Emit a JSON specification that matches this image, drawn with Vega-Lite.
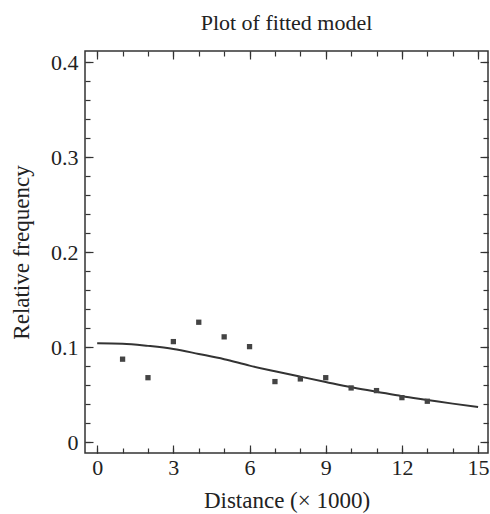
{
  "$schema": "https://vega.github.io/schema/vega-lite/v6.json",
  "autosize": "none",
  "width": 403,
  "height": 402,
  "padding": {"left": 85, "top": 51, "right": 2, "bottom": 61},
  "background": "white",
  "config": {
    "font": "Liberation Serif",
    "view": {"stroke": "#333", "strokeWidth": 1.5},
    "axis": {"domain": false, "grid": false, "tickColor": "#333", "tickWidth": 1.2, "labelColor": "#222", "titleColor": "#222", "labelFont": "Liberation Serif", "titleFont": "Liberation Serif", "labelFontSize": 22, "titleFontSize": 23, "titleFontWeight": "normal"}
  },
  "title": {"text": "Plot of fitted model", "fontSize": 22, "fontWeight": "normal", "font": "Liberation Serif", "color": "#222", "offset": 15, "anchor": "middle"},
  "datasets": {
    "points": [
      {"distance": 1, "freq": 0.0875},
      {"distance": 2, "freq": 0.068},
      {"distance": 3, "freq": 0.106},
      {"distance": 4, "freq": 0.1264},
      {"distance": 5, "freq": 0.111},
      {"distance": 6, "freq": 0.1007},
      {"distance": 7, "freq": 0.0639},
      {"distance": 8, "freq": 0.0667},
      {"distance": 9, "freq": 0.068},
      {"distance": 10, "freq": 0.0572},
      {"distance": 11, "freq": 0.0544},
      {"distance": 12, "freq": 0.047},
      {"distance": 13, "freq": 0.0432}
    ],
    "curve": [
      {"distance": 0, "freq": 0.1043},
      {"distance": 1, "freq": 0.1038},
      {"distance": 2, "freq": 0.1015},
      {"distance": 3, "freq": 0.0983},
      {"distance": 4, "freq": 0.093},
      {"distance": 5, "freq": 0.0875},
      {"distance": 6, "freq": 0.0807},
      {"distance": 7, "freq": 0.0748},
      {"distance": 8, "freq": 0.0691},
      {"distance": 9, "freq": 0.0635},
      {"distance": 10, "freq": 0.058},
      {"distance": 11, "freq": 0.0533},
      {"distance": 12, "freq": 0.0485},
      {"distance": 13, "freq": 0.0446},
      {"distance": 14, "freq": 0.0407},
      {"distance": 15, "freq": 0.0372}
    ]
  },
  "resolve": {"axis": {"x": "independent", "y": "independent"}},
  "layer": [
    {
      "data": {"name": "curve"},
      "mark": {"type": "line", "color": "#333", "strokeWidth": 2, "interpolate": "monotone"},
      "encoding": {
        "x": {"field": "distance", "type": "quantitative", "scale": {"domain": [-0.48, 15.39], "nice": false, "zero": false},
          "axis": {"orient": "bottom", "values": [0, 3, 6, 9, 12, 15], "tickSize": -8, "labelPadding": 12, "title": "Distance (× 1000)", "titlePadding": 11}},
        "y": {"field": "freq", "type": "quantitative", "scale": {"domain": [-0.0113, 0.412], "nice": false, "zero": false},
          "axis": {"orient": "left", "values": [0, 0.1, 0.2, 0.3, 0.4], "tickSize": -8, "labelPadding": 15, "labelExpr": "datum.value == 0 ? '0' : format(datum.value, '.1f')", "title": "Relative frequency", "titlePadding": 17}}
      }
    },
    {
      "data": {"name": "points"},
      "mark": {"type": "square", "color": "#444", "size": 28, "opacity": 1},
      "encoding": {
        "x": {"field": "distance", "type": "quantitative", "scale": {"domain": [-0.48, 15.39], "nice": false, "zero": false},
          "axis": {"orient": "bottom", "values": [0,1,2,3,4,5,6,7,8,9,10,11,12,13,14,15], "tickSize": -5, "labels": false, "title": null}},
        "y": {"field": "freq", "type": "quantitative", "scale": {"domain": [-0.0113, 0.412], "nice": false, "zero": false},
          "axis": {"orient": "left", "values": [0,0.02,0.04,0.06,0.08,0.1,0.12,0.14,0.16,0.18,0.2,0.22,0.24,0.26,0.28,0.3,0.32,0.34,0.36,0.38,0.4], "tickSize": -5, "labels": false, "title": null}}
      }
    },
    {
      "data": {"name": "points"},
      "mark": {"type": "point", "opacity": 0},
      "encoding": {
        "x": {"field": "distance", "type": "quantitative", "scale": {"domain": [-0.48, 15.39], "nice": false, "zero": false},
          "axis": {"orient": "top", "values": [0, 3, 6, 9, 12, 15], "tickSize": -8, "labels": false, "title": null}},
        "y": {"field": "freq", "type": "quantitative", "scale": {"domain": [-0.0113, 0.412], "nice": false, "zero": false},
          "axis": {"orient": "right", "values": [0, 0.1, 0.2, 0.3, 0.4], "tickSize": -8, "labels": false, "title": null}}
      }
    },
    {
      "data": {"name": "points"},
      "mark": {"type": "point", "opacity": 0},
      "encoding": {
        "x": {"field": "distance", "type": "quantitative", "scale": {"domain": [-0.48, 15.39], "nice": false, "zero": false},
          "axis": {"orient": "top", "values": [0,1,2,3,4,5,6,7,8,9,10,11,12,13,14,15], "tickSize": -5, "labels": false, "title": null}},
        "y": {"field": "freq", "type": "quantitative", "scale": {"domain": [-0.0113, 0.412], "nice": false, "zero": false},
          "axis": {"orient": "right", "values": [0,0.02,0.04,0.06,0.08,0.1,0.12,0.14,0.16,0.18,0.2,0.22,0.24,0.26,0.28,0.3,0.32,0.34,0.36,0.38,0.4], "tickSize": -5, "labels": false, "title": null}}
      }
    }
  ]
}
